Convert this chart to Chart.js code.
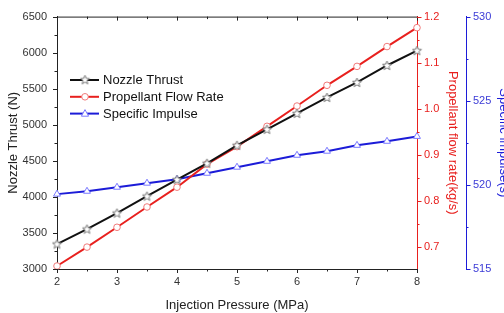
<!DOCTYPE html>
<html>
<head>
<meta charset="utf-8">
<script src="https://cdn.jsdelivr.net/npm/chart.js@4"></script>
<style>
  body { margin: 0; background: #fff; }
  canvas { display: block; }
</style>
</head>
<body>
<canvas id="chart" width="504" height="313"></canvas>
<script>
// data
const pressure = [2, 2.5, 3, 3.5, 4, 4.5, 5, 5.5, 6, 6.5, 7, 7.5, 8];
const nozzleThrust = [3346, 3553, 3775, 4010, 4240, 4466, 4715, 4937, 5158, 5379, 5587, 5822, 6029];
const flowRate = [0.659, 0.700, 0.743, 0.787, 0.830, 0.880, 0.918, 0.962, 1.006, 1.051, 1.092, 1.135, 1.176];
const specificImpulse = [519.45, 519.62, 519.86, 520.10, 520.33, 520.69, 521.05, 521.40, 521.76, 522.0, 522.35, 522.59, 522.88];

// tick labels
const pressureTicks = [2, 3, 4, 5, 6, 7, 8];
const thrustTicks = [3000, 3500, 4000, 4500, 5000, 5500, 6000, 6500];
const flowTicks = [0.7, 0.8, 0.9, 1.0, 1.1, 1.2];
const impulseTicks = [515, 520, 525, 530];

const RED = '#e8201e';
const BLUE = '#1c1cd8';

// open five-point star marker
function starMarker() {
  const c = document.createElement('canvas');
  c.width = 11; c.height = 11;
  const g = c.getContext('2d');
  g.beginPath();
  for (let i = 0; i < 10; i++) {
    const r = i % 2 === 0 ? 4.8 : 2.1;
    const a = -Math.PI / 2 + i * Math.PI / 5;
    const px = 5.5 + r * Math.cos(a), py = 5.8 + r * Math.sin(a);
    i === 0 ? g.moveTo(px, py) : g.lineTo(px, py);
  }
  g.closePath();
  g.fillStyle = '#fff';
  g.fill();
  g.strokeStyle = '#777';
  g.lineWidth = 1;
  g.stroke();
  return c;
}
const star = starMarker();

const toPoints = vals => vals.map((v, i) => ({ x: pressure[i], y: v }));
const setTicks = list => scale => { scale.ticks = list.map(v => ({ value: v })); };

// minor/major tick marks, top frame line and in-plot legend
const frame = {
  id: 'frame',
  afterDraw(chart) {
    const { ctx, chartArea: a, scales } = chart;
    ctx.save();
    ctx.lineWidth = 1;
    const mids = list => list.slice(0, -1).map((v, i) => (v + list[i + 1]) / 2);

    // top border
    ctx.strokeStyle = '#222';
    ctx.beginPath();
    ctx.moveTo(a.left, a.top + 0.5);
    ctx.lineTo(a.right, a.top + 0.5);
    ctx.stroke();

    const vTicks = (scale, list, x0, dir, len) => {
      list.forEach(v => {
        const y = Math.round(scale.getPixelForValue(v)) + 0.5;
        ctx.beginPath();
        ctx.moveTo(x0, y);
        ctx.lineTo(x0 + dir * len, y);
        ctx.stroke();
      });
    };
    const hTicks = (scale, list, y0, dir, len) => {
      list.forEach(v => {
        const x = Math.round(scale.getPixelForValue(v)) + 0.5;
        ctx.beginPath();
        ctx.moveTo(x, y0);
        ctx.lineTo(x, y0 + dir * len);
        ctx.stroke();
      });
    };

    ctx.strokeStyle = '#222';
    vTicks(scales.y, thrustTicks, a.left, -1, 4);
    vTicks(scales.y, mids(thrustTicks), a.left, -1, 2.5);
    hTicks(scales.x, pressureTicks, a.bottom, 1, 4);
    hTicks(scales.x, mids(pressureTicks), a.bottom, 1, 2.5);
    hTicks(scales.x, pressureTicks, a.top, 1, 4);
    hTicks(scales.x, mids(pressureTicks), a.top, 1, 2.5);

    ctx.strokeStyle = RED;
    vTicks(scales.y1, flowTicks, scales.y1.left, 1, 4.5);
    vTicks(scales.y1, mids(flowTicks), scales.y1.left, 1, 2.5);

    ctx.strokeStyle = BLUE;
    vTicks(scales.y2, impulseTicks, scales.y2.left, 1, 4.5);
    vTicks(scales.y2, mids(impulseTicks), scales.y2.left, 1, 2.5);

    // legend
    ctx.font = '13px "Liberation Sans", Arial, sans-serif';
    ctx.textBaseline = 'middle';
    chart.data.datasets.forEach((ds, i) => {
      const y = 80 + i * 16.8;
      ctx.strokeStyle = ds.borderColor;
      ctx.lineWidth = 2;
      ctx.beginPath();
      ctx.moveTo(70, y);
      ctx.lineTo(99, y);
      ctx.stroke();
      ctx.lineWidth = 1;
      if (ds.pointStyle === star) {
        ctx.drawImage(star, 85 - 5.5, y - 5.8);
      } else {
        ctx.fillStyle = '#fff';
        ctx.strokeStyle = ds.pointBorderColor;
        ctx.beginPath();
        if (ds.pointStyle === 'circle') {
          ctx.arc(85, y, 3.3, 0, Math.PI * 2);
        } else {
          ctx.moveTo(85, y - 4);
          ctx.lineTo(88.6, y + 2.6);
          ctx.lineTo(81.4, y + 2.6);
          ctx.closePath();
        }
        ctx.fill();
        ctx.stroke();
      }
      ctx.fillStyle = '#111';
      ctx.fillText(ds.label, 103, y + 0.5);
    });
    ctx.restore();
  }
};

const font = { family: '"Liberation Sans", Arial, sans-serif' };

new Chart(document.getElementById('chart'), {
  type: 'line',
  data: {
    datasets: [
      {
        label: 'Nozzle Thrust',
        data: toPoints(nozzleThrust),
        yAxisID: 'y',
        borderColor: '#111',
        borderWidth: 2,
        pointStyle: star,
        pointRadius: 4,
        clip: false
      },
      {
        label: 'Propellant Flow Rate',
        data: toPoints(flowRate),
        yAxisID: 'y1',
        borderColor: RED,
        borderWidth: 2,
        pointStyle: 'circle',
        pointRadius: 3.3,
        pointBackgroundColor: '#fff',
        pointBorderColor: '#f07a7a',
        pointBorderWidth: 1,
        clip: false
      },
      {
        label: 'Specific Impulse',
        data: toPoints(specificImpulse),
        yAxisID: 'y2',
        borderColor: BLUE,
        borderWidth: 2,
        pointStyle: 'triangle',
        pointRadius: 4,
        pointBackgroundColor: '#fff',
        pointBorderColor: '#7a7aff',
        pointBorderWidth: 1,
        clip: false
      }
    ]
  },
  options: {
    responsive: false,
    animation: false,
    layout: { padding: { top: 16, left: 0, right: 0, bottom: 0 } },
    plugins: {
      legend: { display: false },
      tooltip: { enabled: false }
    },
    elements: { line: { tension: 0 } },
    scales: {
      x: {
        type: 'linear',
        min: 2, max: 8,
        afterBuildTicks: setTicks(pressureTicks),
        afterFit: s => { s.height = 44; },
        grid: { display: false, drawTicks: false },
        border: { color: '#222', width: 1 },
        ticks: { padding: 6, color: '#333', font: { ...font, size: 11 },
                 callback: v => String(v) },
        title: { display: true, text: 'Injection Pressure (MPa)', color: '#222',
                 padding: 0, font: { ...font, size: 13 } }
      },
      y: {
        position: 'left',
        min: 3000, max: 6500,
        afterBuildTicks: setTicks(thrustTicks),
        afterFit: s => { s.width = 57; },
        grid: { display: false, drawTicks: false },
        border: { color: '#222', width: 1 },
        ticks: { padding: 10, color: '#333', font: { ...font, size: 11 },
                 callback: v => String(v) },
        title: { display: true, text: 'Nozzle Thrust (N)', color: '#222',
                 padding: 6, font: { ...font, size: 13 } }
      },
      y1: {
        position: 'right',
        weight: 0,
        min: 0.6525, max: 1.2,
        afterBuildTicks: setTicks(flowTicks),
        afterFit: s => { s.width = 49; },
        grid: { display: false, drawTicks: false },
        border: { color: RED, width: 1 },
        ticks: { padding: 7, color: RED, font: { ...font, size: 11 },
                 callback: v => v.toFixed(1) },
        title: { display: true, text: 'Propellant flow rate(kg/s)', color: RED,
                 padding: 6, font: { ...font, size: 13 } }
      },
      y2: {
        position: 'right',
        weight: 1,
        min: 515, max: 530,
        afterBuildTicks: setTicks(impulseTicks),
        afterFit: s => { s.width = 38; },
        grid: { display: false, drawTicks: false },
        border: { color: BLUE, width: 1 },
        ticks: { padding: 7, color: '#3b3bd6', font: { ...font, size: 11 },
                 callback: v => String(v) },
        title: { display: true, text: 'Specific impulse(s)', color: BLUE,
                 padding: -7.5, font: { ...font, size: 13 } }
      }
    }
  },
  plugins: [frame]
});
</script>
</body>
</html>
